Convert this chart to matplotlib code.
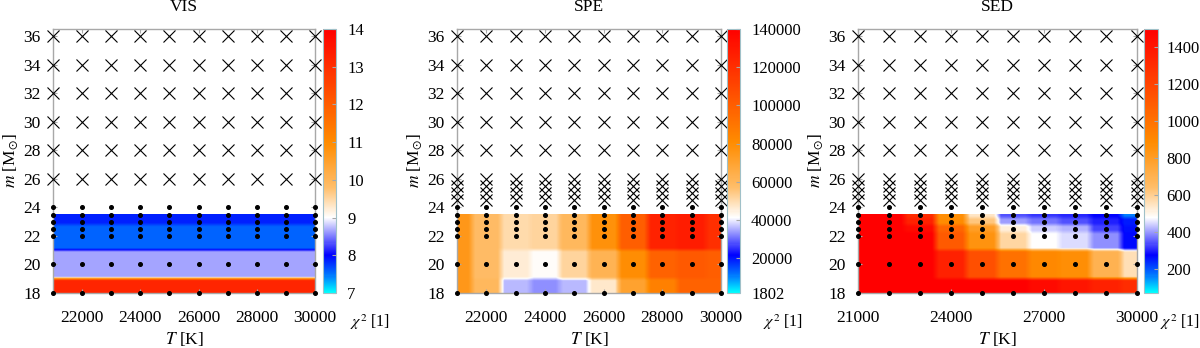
import numpy as np
import matplotlib
matplotlib.use('Agg')
import matplotlib.pyplot as plt
from matplotlib.colors import LinearSegmentedColormap

plt.rcParams['font.family'] = ['Liberation Serif', 'DejaVu Serif']
plt.rcParams['mathtext.fontset'] = 'stix'
plt.rcParams['font.size'] = 12

# model grid
T_grid = [21000, 22000, 23000, 24000, 25000, 26000, 27000, 28000, 29000, 30000]
m_rows = [18, 20, 22, 22.5, 23, 23.5]          # rows with chi2 values
m_dots = [18, 20, 22, 22.5, 23, 23.5, 24]      # computed models
m_cross_vis = [26, 28, 30, 32, 34, 36]         # failed models
m_cross_other = [24.5, 25, 25.5, 26, 28, 30, 32, 34, 36]

# chi2 values, one list per m row (18 .. 23.5), columns = T_grid
vis_chi2 = [
    [13.2, 13.2, 13.2, 13.2, 13.2, 13.2, 13.2, 13.2, 13.2, 13.2],
    [8.65, 8.65, 8.65, 8.65, 8.65, 8.65, 8.65, 8.65, 8.65, 8.65],
    [7.55, 7.55, 7.55, 7.55, 7.55, 7.55, 7.55, 7.55, 7.55, 7.55],
    [7.55, 7.55, 7.55, 7.55, 7.55, 7.55, 7.55, 7.55, 7.55, 7.55],
    [7.85, 7.85, 7.85, 7.85, 7.85, 7.85, 7.85, 7.85, 7.85, 7.85],
    [7.85, 7.85, 7.85, 7.85, 7.85, 7.85, 7.85, 7.85, 7.85, 7.85],
]
spe_chi2 = [
    [75000, 60000, 36000, 33000, 36000, 47000, 70000, 85000, 98000, 98000],
    [75000, 58000, 46000, 42000, 52000, 62000, 80000, 98000, 102000, 100000],
    [75000, 58000, 50000, 52000, 60000, 78000, 100000, 125000, 128000, 120000],
    [75000, 58000, 50000, 52000, 60000, 78000, 100000, 125000, 128000, 120000],
    [75000, 58000, 50000, 52000, 60000, 78000, 100000, 125000, 128000, 120000],
    [75000, 58000, 50000, 52000, 60000, 78000, 100000, 125000, 128000, 120000],
]
sed_chi2 = [
    [1500, 1500, 1500, 1500, 1500, 1500, 1450, 1400, 1350, 1300],
    [1500, 1500, 1500, 1350, 1150, 1000, 900, 870, 700, 560],
    [1500, 1500, 1500, 1100, 850, 580, 480, 450, 390, 270],
    [1500, 1500, 1450, 1050, 800, 520, 440, 420, 330, 260],
    [1500, 1500, 1350, 880, 620, 400, 370, 340, 300, 250],
    [1500, 1500, 1300, 870, 540, 340, 320, 305, 275, 160],
]

panels = [
    ('VIS', vis_chi2, 7, 14, [7, 8, 9, 10, 11, 12, 13, 14], m_cross_vis,
     [22000, 24000, 26000, 28000, 30000]),
    ('SPE', spe_chi2, 1802, 140000, [1802, 20000, 40000, 60000, 80000, 100000, 120000, 140000],
     m_cross_other, [22000, 24000, 26000, 28000, 30000]),
    ('SED', sed_chi2, 70, 1500, [200, 400, 600, 800, 1000, 1200, 1400], m_cross_other,
     [21000, 24000, 27000, 30000]),
]

cmap = LinearSegmentedColormap.from_list('chi', [
    (0.0, '#00ffff'), (0.07, '#0070ff'), (0.143, '#0000ff'), (0.286, '#ffffff'),
    (0.40, '#ffbe6a'), (0.57, '#ff8c00'), (1.0, '#ff0000')])


def smooth_blocks(T, m, Z, nx=600, ny=440, kx=15, ky=21):
    # nearest-cell image with softened edges
    T = np.array(T, float)
    m = np.array(m, float)
    Z = np.array(Z, float)
    xf = np.linspace(T[0], T[-1], nx)
    yf = np.linspace(m[0], m[-1], ny)
    ix = np.searchsorted((T[1:] + T[:-1]) / 2, xf)
    iy = np.searchsorted((m[1:] + m[:-1]) / 2, yf)
    Zf = Z[np.ix_(iy, ix)]
    k = np.ones(kx) / kx
    Zp = np.pad(Zf, ((0, 0), (kx // 2, kx // 2)), mode='edge')
    Zf = np.apply_along_axis(lambda r: np.convolve(r, k, 'valid'), 1, Zp)
    k = np.ones(ky) / ky
    Zp = np.pad(Zf, ((ky // 2, ky // 2), (0, 0)), mode='edge')
    Zf = np.apply_along_axis(lambda c: np.convolve(c, k, 'valid'), 0, Zp)
    return Zf


fig = plt.figure(figsize=(12, 3.48), dpi=100)
H = 348.0
ax_pos = [(53, 315), (457, 721), (858, 1137)]
cb_pos = [(323, 336), (727, 740), (1144, 1158)]
chi_x = [350, 763, 1160]
cb_pad = [8, 8, 6]
gray = '#a8a8a8'

for i, (name, Z, vmin, vmax, cticks, m_cross, xticks) in enumerate(panels):
    x0, x1 = ax_pos[i]
    ax = fig.add_axes([x0 / 1200, 1 - 293 / H, (x1 - x0) / 1200, (293 - 29) / H])
    img = smooth_blocks(T_grid, m_rows, Z)
    im = ax.imshow(img, extent=[T_grid[0], T_grid[-1], m_rows[0], m_rows[-1]],
                   origin='lower', aspect='auto', cmap=cmap, vmin=vmin, vmax=vmax,
                   interpolation='bilinear')
    TT, MM = np.meshgrid(T_grid, m_dots)
    ax.plot(TT.ravel(), MM.ravel(), 'o', color='black', ms=2.6, clip_on=False, zorder=5)
    TT, MM = np.meshgrid(T_grid, m_cross)
    ax.plot(TT.ravel(), MM.ravel(), 'x', color='black', ms=8, mew=0.8, clip_on=False, zorder=5)

    ax.set_xlim(21000, 30000)
    ax.set_ylim(18, 36.5)
    ax.set_xticks(xticks)
    ax.set_yticks([18, 20, 22, 24, 26, 28, 30, 32, 34, 36])
    ax.tick_params(direction='in', color=gray, length=3, width=0.8, top=True, right=True,
                   labelsize=12.5)
    ax.tick_params(axis='x', pad=12)
    ax.tick_params(axis='y', pad=9)
    for s in ax.spines.values():
        s.set_color(gray)
        s.set_linewidth(1.0)
    ax.set_xlabel('$T$ [K]', fontsize=12.5, labelpad=3)
    ax.set_ylabel(r'$m$ [M$_{\odot}$]', fontsize=12.5, labelpad=2)
    fig.text((x0 + x1) / 2 / 1200, 1.004, name, ha='center', va='top', fontsize=12.5)

    c0, c1 = cb_pos[i]
    cax = fig.add_axes([c0 / 1200, 1 - 293 / H, (c1 - c0) / 1200, (293 - 29) / H])
    cb = fig.colorbar(im, cax=cax, ticks=cticks)
    cb.ax.tick_params(direction='in', color=gray, length=3, width=0.8, labelsize=12,
                      pad=cb_pad[i])
    cb.outline.set_edgecolor('#a0c0c8')
    cb.outline.set_linewidth(0.8)
    fig.text(chi_x[i] / 1200, 1 - 322 / H, r'$\chi^2$ [1]', ha='left', va='center', fontsize=11.5)

fig.savefig('out.png', dpi=100)
